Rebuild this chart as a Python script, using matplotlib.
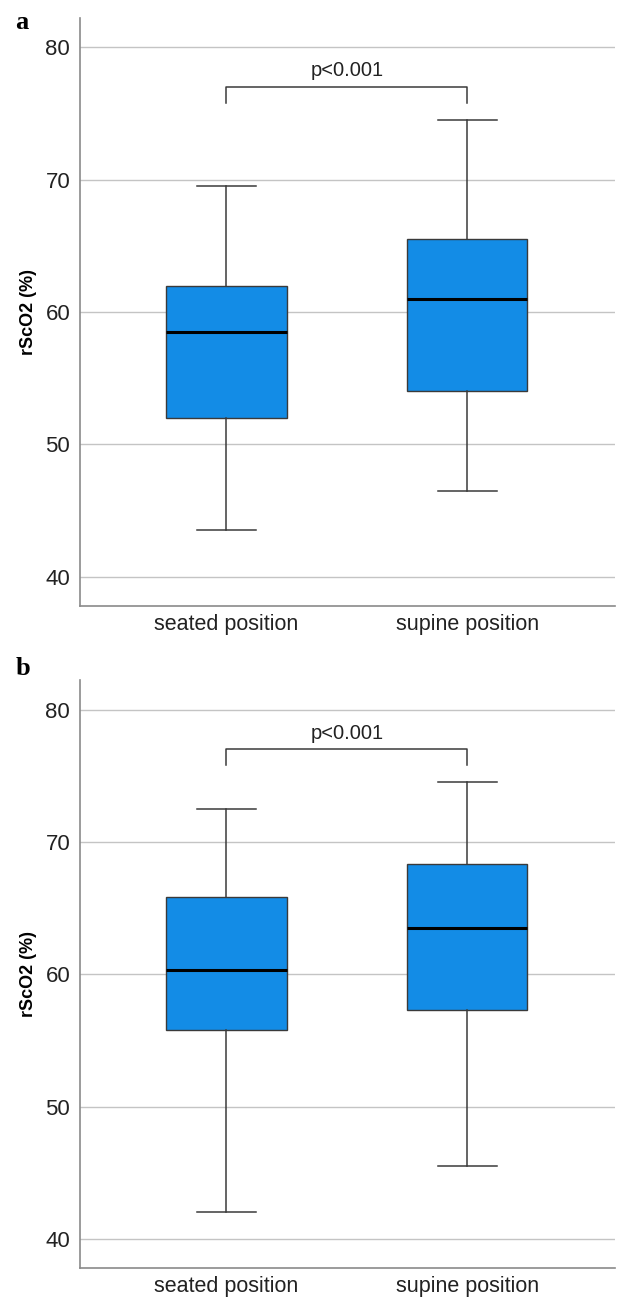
import matplotlib
matplotlib.use("Agg")
import matplotlib.pyplot as plt

groups = ["seated position", "supine position"]

# five-number summaries: low whisker, Q1, median, Q3, high whisker
panel_a = {
    "seated position": [43.5, 52.0, 58.5, 62.0, 69.5],
    "supine position": [46.5, 54.0, 61.0, 65.5, 74.5],
}
panel_b = {
    "seated position": [42.0, 55.8, 60.3, 65.8, 72.5],
    "supine position": [45.5, 57.3, 63.5, 68.3, 74.5],
}
brackets = {"a": (77.0, 75.8), "b": (77.0, 75.8)}
p_text = "p<0.001"
y_ticks = [40, 50, 60, 70, 80]

BOX_COLOR = "#138ce6"
EDGE = "#3a3a3a"
GRID = "#c4c4c4"
SPINE = "#8a8a8a"

fig = plt.figure(figsize=(6.19, 13.0), dpi=100)
ax_a = fig.add_axes([0.129, 0.534, 0.864, 0.452])
ax_b = fig.add_axes([0.129, 0.0246, 0.864, 0.452])


def draw_panel(ax, data, bracket, letter, label_y):
    stats = []
    for g in groups:
        lo, q1, med, q3, hi = data[g]
        stats.append(dict(label=g, whislo=lo, q1=q1, med=med, q3=q3, whishi=hi, fliers=[]))
    ax.bxp(stats, positions=[0, 1], widths=0.5, patch_artist=True,
           boxprops=dict(facecolor=BOX_COLOR, edgecolor=EDGE, linewidth=1.0),
           medianprops=dict(color="black", linewidth=2.2),
           whiskerprops=dict(color=EDGE, linewidth=1.1),
           capprops=dict(color=EDGE, linewidth=1.1),
           capwidths=0.245, showfliers=False, zorder=3)

    top, leg = bracket
    ax.plot([0, 0, 1, 1], [leg, top, top, leg], color=EDGE, linewidth=1.1, zorder=3)
    ax.text(0.5, top + 0.5, p_text, ha="center", va="bottom", fontsize=14.5,
            family="Liberation Sans", color="#222222")

    ax.set_xlim(-0.609, 1.612)
    ax.set_ylim(37.8, 82.2)
    ax.set_yticks(y_ticks)
    ax.set_xticks([0, 1])
    ax.set_xticklabels(groups)
    ax.yaxis.grid(True, color=GRID, linewidth=1.0, zorder=0)
    ax.set_axisbelow(True)
    for s in ["top", "right"]:
        ax.spines[s].set_visible(False)
    for s in ["left", "bottom"]:
        ax.spines[s].set_color(SPINE)
        ax.spines[s].set_linewidth(1.2)
    ax.tick_params(axis="y", length=0, labelsize=16, colors="#222222", pad=7)
    ax.tick_params(axis="x", length=0, labelsize=15.5, colors="#222222", pad=6)
    for lbl in ax.get_xticklabels() + ax.get_yticklabels():
        lbl.set_family("Liberation Sans")
    ax.set_ylabel("rScO2 (%)", fontsize=13, fontweight="bold",
                  family="Liberation Sans", labelpad=6)
    fig.text(0.025, label_y, letter, fontsize=19, fontweight="bold",
             family="Liberation Serif", va="center")


draw_panel(ax_a, panel_a, brackets["a"], "a", 0.983)
draw_panel(ax_b, panel_b, brackets["b"], "b", 0.486)

fig.savefig("out.png", dpi=100, facecolor="white")
plt.close(fig)
